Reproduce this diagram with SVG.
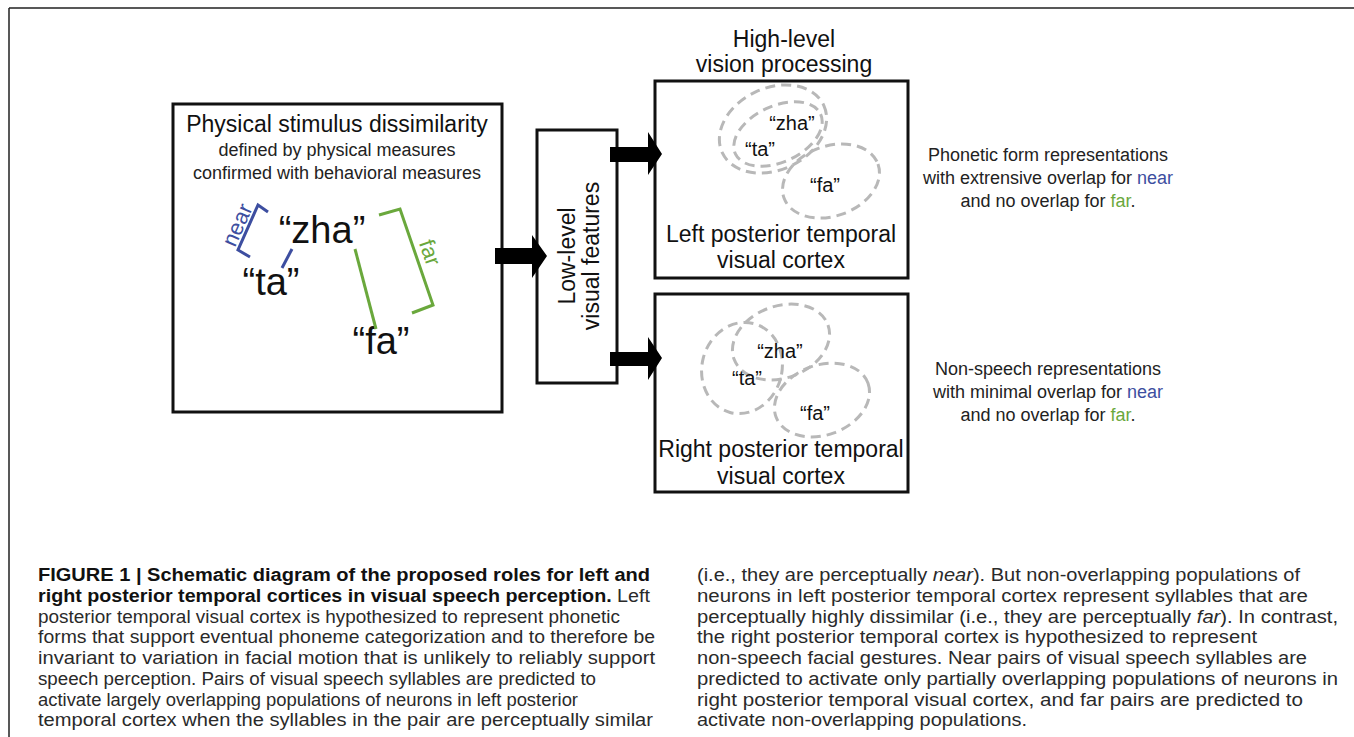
<svg xmlns="http://www.w3.org/2000/svg" width="1354" height="737" viewBox="0 0 1354 737">
<style>
  text { font-family: "Liberation Sans", Arial, sans-serif; }
  .box { fill: #fff; stroke: #111; stroke-width: 3; }
  .t23 { font-size: 23px; fill: #111; text-anchor: middle; }
  .t18 { font-size: 18px; fill: #222; text-anchor: middle; }
  .big { font-size: 38px; fill: #111; text-anchor: middle; }
  .syl { font-size: 20px; fill: #111; text-anchor: middle; }
  .dash { fill: none; stroke: #b8b8b8; stroke-width: 3; stroke-dasharray: 10 6; }
  .blue { fill: #3d4ea0; }
  .green { fill: #6aa83c; }
  .bl { stroke: #3d4ea0; stroke-width: 3; fill: none; }
  .gl { stroke: #6aa83c; stroke-width: 3; fill: none; }
  .cap { font-size: 17.5px; fill: #2a2a2a; }
  .capb { font-weight: bold; fill: #111; }
</style>

<!-- frame -->
<path d="M9,8 H1354 M9,8 V737" stroke="#222" stroke-width="1.5" fill="none"/>

<!-- Stimulus node -->
<g id="stimulus">
  <rect class="box" x="173" y="104" width="329" height="308"/>
  <text class="t23" x="337" y="132">Physical stimulus dissimilarity</text>
  <text class="t18" x="337" y="156">defined by physical measures</text>
  <text class="t18" x="337" y="179">confirmed with behavioral measures</text>
  <text class="big" x="322" y="243">“zha”</text>
  <text class="big" x="271" y="295">“ta”</text>
  <text class="big" x="381" y="354">“fa”</text>
  <polyline class="bl" points="268,212 258,205 238,250 250,257"/>
  <line class="bl" x1="292" y1="249" x2="282" y2="268"/>
  <text class="blue" font-size="22" text-anchor="middle" transform="translate(244,228) rotate(-66)">near</text>
  <polyline class="gl" points="379,215 400,209 433,305 412,313"/>
  <line class="gl" x1="355" y1="249" x2="376" y2="329"/>
  <text class="green" font-size="22" text-anchor="middle" transform="translate(423,255) rotate(71)">far</text>
</g>

<!-- Low-level node -->
<g id="lowlevel">
  <rect class="box" x="537" y="130" width="80" height="253"/>
  <text class="t23" transform="translate(575,256) rotate(-90)">Low-level</text>
  <text class="t23" transform="translate(599,256) rotate(-90)">visual features</text>
</g>

<!-- Left cortex node -->
<g id="left-cortex">
  <text class="t23" x="784" y="47">High-level</text>
  <text class="t23" x="784" y="72">vision processing</text>
  <rect class="box" x="655" y="81" width="253" height="197"/>
  <ellipse class="dash" cx="773" cy="129" rx="56" ry="41" transform="rotate(-25 773 129)"/>
  <ellipse class="dash" cx="778" cy="134" rx="47" ry="28" transform="rotate(-25 778 134)"/>
  <ellipse class="dash" cx="831" cy="181" rx="50" ry="35" transform="rotate(-20 831 181)"/>
  <text class="syl" x="792" y="130">“zha”</text>
  <text class="syl" x="760" y="156">“ta”</text>
  <text class="syl" x="825" y="192">“fa”</text>
  <text class="t23" x="781" y="242">Left posterior temporal</text>
  <text class="t23" x="781" y="268">visual cortex</text>
</g>

<!-- Right cortex node -->
<g id="right-cortex">
  <rect class="box" x="655" y="294" width="253" height="198"/>
  <ellipse class="dash" cx="742" cy="368" rx="40" ry="46" transform="rotate(15 742 368)"/>
  <ellipse class="dash" cx="781" cy="342" rx="50" ry="36" transform="rotate(-20 781 342)"/>
  <ellipse class="dash" cx="822" cy="400" rx="49" ry="35" transform="rotate(-20 822 400)"/>
  <text class="syl" x="780" y="358">“zha”</text>
  <text class="syl" x="747" y="385">“ta”</text>
  <text class="syl" x="815" y="420">“fa”</text>
  <text class="t23" x="781" y="457">Right posterior temporal</text>
  <text class="t23" x="781" y="484">visual cortex</text>
</g>

<!-- Annotations -->
<g id="note-left">
  <text class="t18" x="1048" y="161">Phonetic form representations</text>
  <text class="t18" x="1048" y="184">with extrensive overlap for <tspan class="blue">near</tspan></text>
  <text class="t18" x="1048" y="207">and no overlap for <tspan class="green">far</tspan>.</text>
</g>
<g id="note-right">
  <text class="t18" x="1048" y="375">Non-speech representations</text>
  <text class="t18" x="1048" y="398">with minimal overlap for <tspan class="blue">near</tspan></text>
  <text class="t18" x="1048" y="421">and no overlap for <tspan class="green">far</tspan>.</text>
</g>

<!-- Connectors -->
<g id="connectors" fill="#000">
  <path d="M495,248 H532 V235 L547,256 L532,278 V264 H495 Z"/>
  <path d="M610,147 H648 V132 L662,154 L648,175 V162 H610 Z"/>
  <path d="M610,352 H648 V337 L662,358 L648,380 V366 H610 Z"/>
</g>

<!-- Caption -->
<g id="caption" class="cap">
  <text x="38" y="581" textLength="612" lengthAdjust="spacingAndGlyphs"><tspan class="capb">FIGURE 1 | Schematic diagram of the proposed roles for left and</tspan></text>
  <text x="38" y="602" textLength="612" lengthAdjust="spacingAndGlyphs"><tspan class="capb">right posterior temporal cortices in visual speech perception.</tspan> Left</text>
  <text x="38" y="623" textLength="582" lengthAdjust="spacingAndGlyphs">posterior temporal visual cortex is hypothesized to represent phonetic</text>
  <text x="38" y="643" textLength="617" lengthAdjust="spacingAndGlyphs">forms that support eventual phoneme categorization and to therefore be</text>
  <text x="38" y="664" textLength="617" lengthAdjust="spacingAndGlyphs">invariant to variation in facial motion that is unlikely to reliably support</text>
  <text x="38" y="685" textLength="558" lengthAdjust="spacingAndGlyphs">speech perception. Pairs of visual speech syllables are predicted to</text>
  <text x="38" y="706" textLength="540" lengthAdjust="spacingAndGlyphs">activate largely overlapping populations of neurons in left posterior</text>
  <text x="38" y="726" textLength="615" lengthAdjust="spacingAndGlyphs">temporal cortex when the syllables in the pair are perceptually similar</text>

  <text x="697" y="581" textLength="603" lengthAdjust="spacingAndGlyphs">(i.e., they are perceptually <tspan font-style="italic">near</tspan>). But non-overlapping populations of</text>
  <text x="697" y="602" textLength="611" lengthAdjust="spacingAndGlyphs">neurons in left posterior temporal cortex represent syllables that are</text>
  <text x="697" y="623" textLength="641" lengthAdjust="spacingAndGlyphs">perceptually highly dissimilar (i.e., they are perceptually <tspan font-style="italic">far</tspan>). In contrast,</text>
  <text x="697" y="643" textLength="560" lengthAdjust="spacingAndGlyphs">the right posterior temporal cortex is hypothesized to represent</text>
  <text x="697" y="664" textLength="610" lengthAdjust="spacingAndGlyphs">non-speech facial gestures. Near pairs of visual speech syllables are</text>
  <text x="697" y="685" textLength="641" lengthAdjust="spacingAndGlyphs">predicted to activate only partially overlapping populations of neurons in</text>
  <text x="697" y="706" textLength="606" lengthAdjust="spacingAndGlyphs">right posterior temporal visual cortex, and far pairs are predicted to</text>
  <text x="697" y="726" textLength="330" lengthAdjust="spacingAndGlyphs">activate non-overlapping populations.</text>
</g>
</svg>
